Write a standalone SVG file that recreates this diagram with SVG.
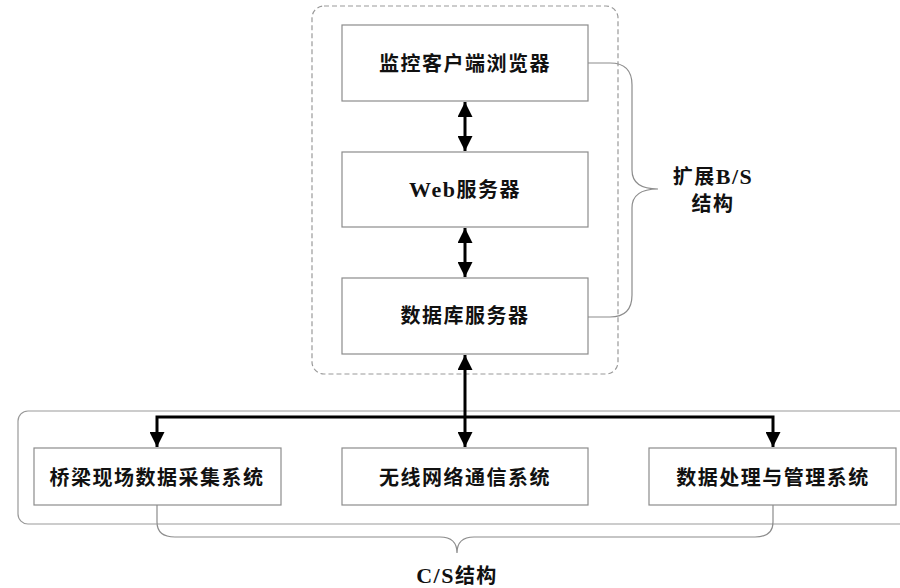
<svg xmlns="http://www.w3.org/2000/svg" width="900" height="588" viewBox="0 0 900 588">
  <style>
    .box { fill: #ffffff; stroke: #8c8c8c; stroke-width: 1.2; }
    .frame { fill: none; stroke: #999999; stroke-width: 1.2; }
    .dash { stroke-dasharray: 5 3; }
    .brace { fill: none; stroke: #8c8c8c; stroke-width: 1.2; }
    .wire { fill: none; stroke: #000000; stroke-width: 3; }
    .label { font-family: "Liberation Serif", "Noto Sans CJK SC", serif; font-weight: bold; font-size: 20px; letter-spacing: 1.5px; text-anchor: middle; fill: #111111; }
    .latin { font-size: 22px; }
  </style>
  <defs>
    <marker id="head" viewBox="0 0 10 10" refX="10" refY="5" markerWidth="5" markerHeight="5" orient="auto-start-reverse" markerUnits="strokeWidth">
      <path d="M0,0 L10,5 L0,10 Z" fill="#000000"/>
    </marker>
  </defs>

  <rect width="900" height="588" fill="#ffffff"/>

  <!-- outer frames -->
  <rect class="frame dash" x="312" y="6" width="306" height="368" rx="12"/>
  <rect class="frame" x="18" y="411" width="900" height="113" rx="10"/>

  <!-- braces -->
  <g id="brace-bs">
    <path class="brace" d="M588,63 L610,63 Q632,63 632,85 L632,170 Q632,189 658,189 Q632,189 632,208 L632,295 Q632,317 610,317 L588,317"/>
    <text class="label" x="713" y="184">扩展<tspan class="latin">B/S</tspan></text>
    <text class="label" x="713" y="211">结构</text>
  </g>
  <g id="brace-cs">
    <path class="brace" d="M157,505 L157,522 Q157,537 175,537 L440,537 Q457,537 457,553 Q457,537 474,537 L755,537 Q773,537 773,522 L773,505"/>
    <text class="label" x="457" y="583"><tspan class="latin">C/S</tspan>结构</text>
  </g>

  <!-- connectors -->
  <g id="connectors">
    <path class="wire" d="M465,102 L465,151" marker-start="url(#head)" marker-end="url(#head)"/>
    <path class="wire" d="M465,228 L465,277" marker-start="url(#head)" marker-end="url(#head)"/>
    <path class="wire" d="M465,355 L465,447" marker-start="url(#head)" marker-end="url(#head)"/>
    <path class="wire" d="M465,417 L157,417 L157,447" marker-end="url(#head)"/>
    <path class="wire" d="M465,417 L773,417 L773,447" marker-end="url(#head)"/>
  </g>

  <!-- B/S tier -->
  <g id="browser">
    <rect class="box" x="342" y="25" width="246" height="76"/>
    <text class="label" x="465" y="71">监控客户端浏览器</text>
  </g>
  <g id="web-server">
    <rect class="box" x="342" y="152" width="246" height="75"/>
    <text class="label" x="465" y="197"><tspan class="latin">Web</tspan>服务器</text>
  </g>
  <g id="db-server">
    <rect class="box" x="342" y="278" width="246" height="76"/>
    <text class="label" x="465" y="323">数据库服务器</text>
  </g>

  <!-- C/S tier -->
  <g id="field-acquisition">
    <rect class="box" x="34" y="448" width="247" height="57"/>
    <text class="label" x="157" y="485">桥梁现场数据采集系统</text>
  </g>
  <g id="wireless-network">
    <rect class="box" x="342" y="448" width="246" height="57"/>
    <text class="label" x="465" y="485">无线网络通信系统</text>
  </g>
  <g id="data-management">
    <rect class="box" x="649" y="448" width="247" height="57"/>
    <text class="label" x="773" y="485">数据处理与管理系统</text>
  </g>
</svg>
